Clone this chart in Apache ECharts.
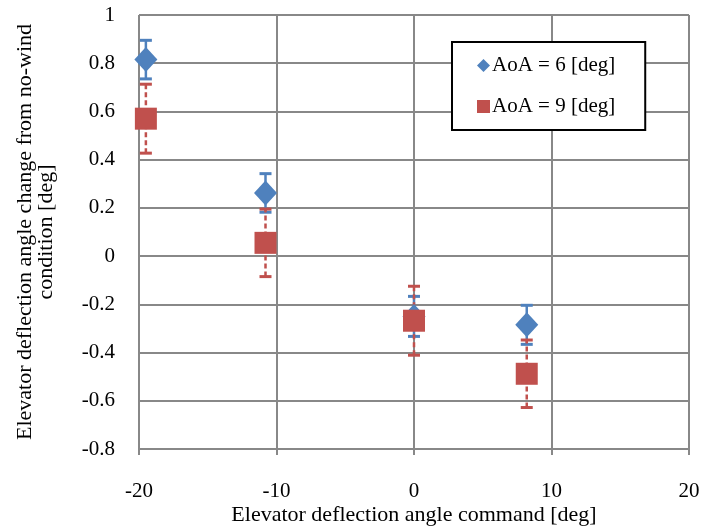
<!DOCTYPE html>
<html>
<head>
    <meta charset="utf-8">
    <title>Elevator deflection</title>
    <script src="https://cdn.jsdelivr.net/npm/echarts@6/dist/echarts.min.js"></script>
    <style>
        html, body { margin: 0; padding: 0; background: #fff; }
        #container { width: 704px; height: 527px; }
    </style>
</head>
<body>
<div id="container"></div>
<script type="text/javascript">
    // elevator command angle [deg]
    var cmdAngle = [-19.5, -10.8, 0.0, 8.2];
    // AoA = 6 deg
    var aoa6 = [0.815, 0.262, -0.25, -0.285];
    var aoa6Err = [0.08, 0.08, 0.083, 0.081];
    // AoA = 9 deg
    var aoa9 = [0.57, 0.055, -0.268, -0.488];
    var aoa9Err = [0.143, 0.14, 0.143, 0.14];

    var blue = '#4F81BD';
    var red = '#C0504D';
    var font = 'Liberation Serif';

    function pts(ys) {
        return cmdAngle.map(function (x, i) { return [x, ys[i]]; });
    }
    function bars(ys, errs) {
        return cmdAngle.map(function (x, i) { return [x, ys[i] - errs[i], ys[i] + errs[i]]; });
    }

    function errorBar(color, dashed) {
        return function (params, api) {
            var lo = api.coord([api.value(0), api.value(1)]);
            var hi = api.coord([api.value(0), api.value(2)]);
            var w = 6;
            return {
                type: 'group',
                children: [
                    {type: 'line', shape: {x1: lo[0], y1: lo[1], x2: hi[0], y2: hi[1]},
                        style: {stroke: color, lineWidth: 2.5, lineDash: dashed ? [5, 3] : null}},
                    {type: 'line', shape: {x1: lo[0] - w, y1: lo[1], x2: lo[0] + w, y2: lo[1]},
                        style: {stroke: color, lineWidth: 3}},
                    {type: 'line', shape: {x1: hi[0] - w, y1: hi[1], x2: hi[0] + w, y2: hi[1]},
                        style: {stroke: color, lineWidth: 3}}
                ]
            };
        };
    }

    var myChart = echarts.init(document.getElementById('container'));
    var option = {
        animation: false,
        textStyle: {fontFamily: font, color: '#000'},
        grid: {left: 139, right: 15, top: 15, bottom: 78, containLabel: false, outerBoundsMode: 'none'},
        legend: {
            orient: 'vertical',
            left: 452,
            top: 42,
            padding: [13, 30, 13, 25],
            itemGap: 20,
            itemWidth: 13,
            itemHeight: 13,
            borderColor: '#000',
            borderWidth: 2,
            backgroundColor: '#fff',
            textStyle: {fontFamily: font, fontSize: 21, color: '#000', padding: [0, 0, 0, -3]},
            data: [
                {name: 'AoA = 6 [deg]', icon: 'diamond'},
                {name: 'AoA = 9 [deg]', icon: 'rect'}
            ]
        },
        xAxis: {
            type: 'value',
            min: -20, max: 20, interval: 10,
            name: 'Elevator deflection angle command [deg]',
            nameLocation: 'middle',
            nameGap: 55,
            nameMoveOverlap: false,
            nameTextStyle: {fontFamily: font, fontSize: 22, color: '#000'},
            axisLine: {onZero: false, lineStyle: {color: '#888', width: 2}},
            axisTick: {show: true, length: 6, lineStyle: {color: '#888', width: 2}},
            axisLabel: {fontFamily: font, fontSize: 21, color: '#000', margin: 32},
            splitLine: {show: true, lineStyle: {color: '#888', width: 2}}
        },
        yAxis: {
            type: 'value',
            min: -0.8, max: 1, interval: 0.2,
            name: 'Elevator deflection angle change from no-wind\ncondition [deg]',
            nameLocation: 'middle',
            nameGap: 82,
            nameMoveOverlap: false,
            nameTextStyle: {fontFamily: font, fontSize: 22, color: '#000', lineHeight: 21},
            axisLine: {show: true, lineStyle: {color: '#888', width: 2}},
            axisTick: {show: true, length: 6, lineStyle: {color: '#888', width: 2}},
            axisLabel: {fontFamily: font, fontSize: 21, color: '#000', margin: 24,
                formatter: function (v) { return String(Math.round(v * 10) / 10); }},
            splitLine: {show: true, lineStyle: {color: '#888', width: 2}}
        },
        series: [
            {
                type: 'custom', name: 'err6', data: bars(aoa6, aoa6Err),
                renderItem: errorBar(blue, false), z: 3, silent: true
            },
            {
                type: 'custom', name: 'err9', data: bars(aoa9, aoa9Err),
                renderItem: errorBar(red, true), z: 4, silent: true
            },
            {
                type: 'scatter', name: 'AoA = 6 [deg]', data: pts(aoa6),
                symbol: 'diamond', symbolSize: [23, 25],
                itemStyle: {color: blue, opacity: 1}, z: 5
            },
            {
                type: 'scatter', name: 'AoA = 9 [deg]', data: pts(aoa9),
                symbol: 'rect', symbolSize: 22,
                itemStyle: {color: red, opacity: 1}, z: 6
            }
        ]
    };
    myChart.setOption(option);
</script>
</body>
</html>
